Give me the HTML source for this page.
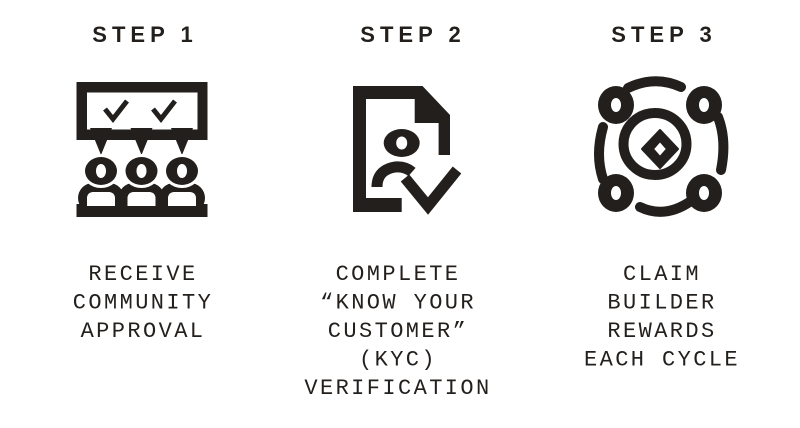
<!DOCTYPE html>
<html><head><meta charset="utf-8"><style>
html,body{margin:0;padding:0;background:#fff;}
svg{display:block}
.h{font-family:"Liberation Sans",sans-serif;font-weight:bold;font-size:22px;letter-spacing:5px;fill:#231f1c}
.t{font-family:"Liberation Mono",monospace;font-size:22px;letter-spacing:2.4px;fill:#231f1c}
</style></head><body>
<svg width="800" height="428" viewBox="0 0 800 428" xmlns="http://www.w3.org/2000/svg">
<text class="h" x="145" y="42" text-anchor="middle">STEP 1</text>
<text class="h" x="413" y="42" text-anchor="middle">STEP 2</text>
<text class="h" x="664" y="42" text-anchor="middle">STEP 3</text>

<g class="t" text-anchor="middle">
<text x="143" y="280">RECEIVE</text>
<text x="143" y="308.5">COMMUNITY</text>
<text x="143" y="337">APPROVAL</text>
<text x="398" y="280">COMPLETE</text>
<text x="398" y="308.5">“KNOW YOUR</text>
<text x="398" y="337">CUSTOMER”</text>
<text x="398" y="365.5">(KYC)</text>
<text x="398" y="394">VERIFICATION</text>
<text x="662" y="280">CLAIM</text>
<text x="662" y="308.5">BUILDER</text>
<text x="662" y="337">REWARDS</text>
<text x="662" y="365.5">EACH CYCLE</text>
</g>

<!-- Icon 1 -->
<g fill="#231f1c">
<path fill-rule="evenodd" d="M76.5 82H207.5V140H76.5Z M87 92.5H197.5V129.5H87Z"/>
<polygon points="90,128 112,128 101,155"/>
<polygon points="130.5,128 152.5,128 141.5,155"/>
<polygon points="171,128 193,128 182,155"/>
<polyline points="105,109 113,119 127,101" fill="none" stroke="#231f1c" stroke-width="5"/>
<polyline points="153,109 161,119 175,101" fill="none" stroke="#231f1c" stroke-width="5"/>
<rect x="76.5" y="204" width="131" height="13"/>
<g id="p">
<rect x="78" y="183" width="46" height="30" rx="15"/>
<path d="M87 206V199Q87 192 94 192H108Q115 192 115 199V206Z" fill="#fff"/>
<ellipse cx="101" cy="171" rx="19" ry="17" fill="#fff"/>
<ellipse cx="101" cy="171" rx="16" ry="14"/>
<ellipse cx="101" cy="171" rx="5" ry="7" fill="#fff"/>
</g>
<use href="#p" x="40.5"/>
<use href="#p" x="81"/>
<path d="M87 206V199Q87 192 94 192H108Q115 192 115 199V206Z" fill="#fff"/>
<path d="M127.5 206V199Q127.5 192 134.5 192H148.5Q155.5 192 155.5 199V206Z" fill="#fff"/>
<path d="M168 206V199Q168 192 175 192H189Q196 192 196 199V206Z" fill="#fff"/>
</g>

<!-- Icon 2 -->
<g fill="#231f1c">
<path d="M353 86H422.5L450 115V155H438.6V123H414.7V99H366V198H401.7V212H353Z"/>
<ellipse cx="401.7" cy="143" rx="18" ry="14"/>
<ellipse cx="401.7" cy="143" rx="5.5" ry="6.5" fill="#fff"/>
<path d="M377 187Q377 170 395 167Q405 166 412 172" fill="none" stroke="#231f1c" stroke-width="11"/>
<polyline points="405,178 428,206 457,170" fill="none" stroke="#231f1c" stroke-width="11"/>
</g>

<!-- Icon 3 -->
<g fill="none" stroke="#231f1c" stroke-width="10" stroke-linecap="round">
<ellipse cx="655" cy="144" rx="31.5" ry="31"/>
<path d="M628 88Q655 75 681 87"/>
<path d="M640 207Q665 219 691 201"/>
<path d="M603 127Q595 155 603 179"/>
<path d="M718 117Q727 140 721 170"/>
</g>
<g fill="#231f1c">
<path fill-rule="evenodd" d="M660 130L678 149L660 168L642 149Z M660 141L667 149L660 157L653 149Z" stroke="#231f1c" stroke-width="2" stroke-linejoin="round"/>
<g fill-rule="evenodd">
<path d="M598 105a18 19 0 1 0 36 0a18 19 0 1 0 -36 0Z M611 105a5 7 0 1 0 10 0a5 7 0 1 0 -10 0Z"/>
<path d="M686 105a18 19 0 1 0 36 0a18 19 0 1 0 -36 0Z M699 105a5 7 0 1 0 10 0a5 7 0 1 0 -10 0Z"/>
<path d="M598 193a18 19 0 1 0 36 0a18 19 0 1 0 -36 0Z M611 193a5 7 0 1 0 10 0a5 7 0 1 0 -10 0Z"/>
<path d="M686 193a18 19 0 1 0 36 0a18 19 0 1 0 -36 0Z M699 193a5 7 0 1 0 10 0a5 7 0 1 0 -10 0Z"/>
</g>
</g>
</svg>
</body></html>
